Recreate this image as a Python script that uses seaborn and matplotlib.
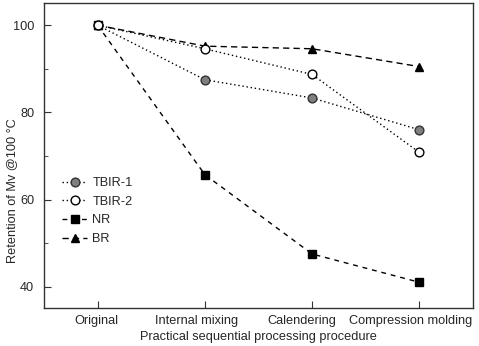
import matplotlib
matplotlib.use("Agg")
import matplotlib.pyplot as plt
import matplotlib.transforms as mtransforms
import seaborn as sns
import pandas as pd
from matplotlib.ticker import MultipleLocator

stages = ["Original", "Internal mixing", "Calendering", "Compression molding"]
tbir1 = [100, 87.5, 83.3, 76.0]
tbir2 = [100, 94.6, 88.7, 70.8]
nr = [100, 65.7, 47.5, 41.0]
br = [100, 95.2, 94.6, 90.5]

sns.set_style("ticks")
plt.rcParams["font.family"] = ["Liberation Sans", "DejaVu Sans"]
FS = 9.2

fig, ax = plt.subplots(figsize=(4.79, 3.46), dpi=100)
pos = list(range(len(stages)))

series = [
    ("BR", br, dict(marker="^", color="black", mfc="black", mec="black", ls=(0, (4.5, 3))), 2),
    ("NR", nr, dict(marker="s", color="black", mfc="black", mec="black", ls=(0, (3.5, 3.5))), 3),
    ("TBIR-1", tbir1, dict(marker="o", color="black", mfc="#7f7f7f", mec="#333333", ls=(0, (1, 2))), 4),
    ("TBIR-2", tbir2, dict(marker="o", color="black", mfc="white", mec="black", ls=(0, (1, 2))), 5),
]
for name, vals, kw, z in series:
    df = pd.DataFrame({"x": pos, "y": vals})
    sns.lineplot(data=df, x="x", y="y", ax=ax, lw=1.0, markersize=6.3,
                 markeredgewidth=1.0, zorder=z, label=name, **kw)
h, l = ax.get_legend_handles_labels()
d = dict(zip(l, h))
order = ["TBIR-1", "TBIR-2", "NR", "BR"]
ax.legend([d[k] for k in order], order, loc="center left", bbox_to_anchor=(0.016, 0.318),
          frameon=False, handlelength=1.95, handletextpad=0.4, labelspacing=0.52, fontsize=FS)

ax.set_xlim(-0.5, 3.5)
ax.set_ylim(35.1, 105.1)
ax.set_xticks(pos)
ax.set_xticklabels(stages)
ax.yaxis.set_major_locator(MultipleLocator(20))
ax.yaxis.set_minor_locator(MultipleLocator(10))
ax.tick_params(axis="both", which="both", direction="in", labelsize=FS, color="#333333")
ax.tick_params(axis="both", which="major", length=5)
ax.tick_params(axis="both", which="minor", length=3)
ax.tick_params(axis="y", which="major", pad=7)
ax.tick_params(axis="x", which="major", pad=5)
# labels in the reference sit slightly left of their ticks
shifts_px = [-1, -8, -10, -9]
for lab, dx in zip(ax.get_xticklabels(), shifts_px):
    off = mtransforms.ScaledTranslation(dx / 100, 0, fig.dpi_scale_trans)
    lab.set_transform(lab.get_transform() + off)
ax.set_xlabel("Practical sequential processing procedure", fontsize=FS, labelpad=3)
ax.set_ylabel("Retention of Mv @100 °C", fontsize=FS)
ax.yaxis.set_label_coords(-0.06, 0.384)
for s in ax.spines.values():
    s.set_color("#333333")
    s.set_linewidth(1.0)

fig.subplots_adjust(left=0.0919, right=0.9875, top=0.9913, bottom=0.1098)
fig.savefig("out.png", dpi=100)
